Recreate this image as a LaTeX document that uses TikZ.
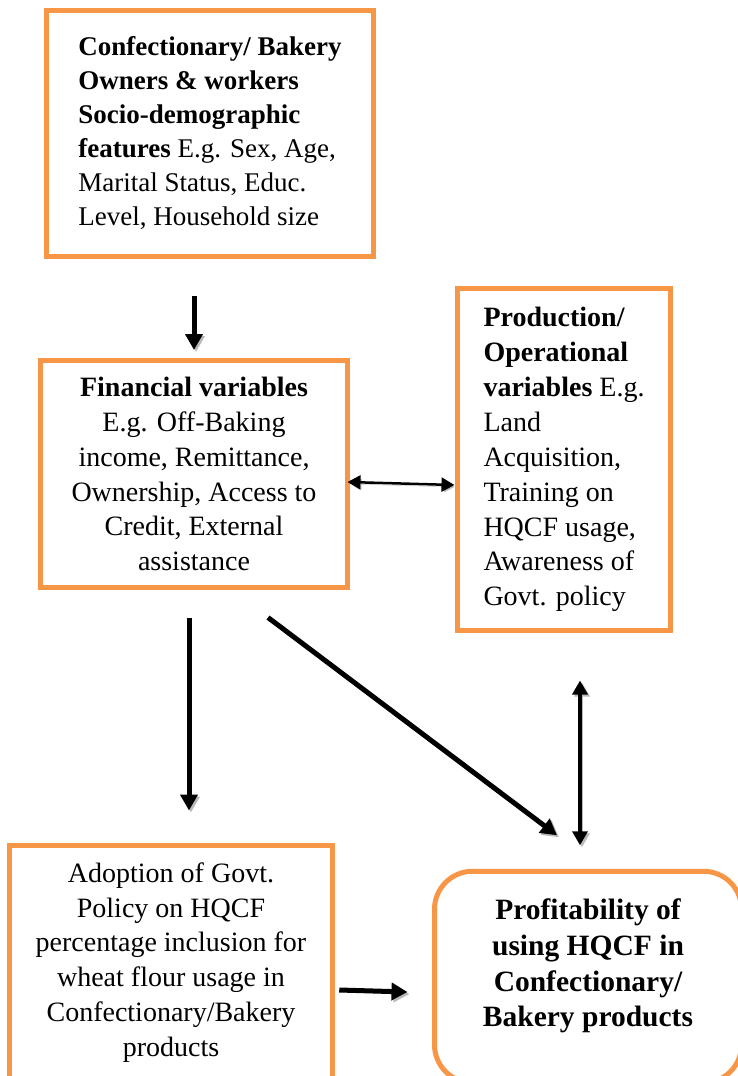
\documentclass[tikz,border=0pt]{standalone}
\usepackage{fontspec}
\setmainfont{Liberation Serif}
\usepackage{tikz}
\usetikzlibrary{arrows.meta,positioning,calc}
\definecolor{boxorange}{HTML}{F79646}

\begin{document}
\begin{tikzpicture}[x=1pt,y=-1pt,
	box/.style={draw=boxorange, line width=5pt, inner sep=0pt, font=\fontsize{28}{34.9}\selectfont},
	rbox/.style={box, rounded corners=38pt},
	shdw/.style={preaction={draw=gray!55, transform canvas={shift={(2pt,-2pt)}}}},
	arr/.style={shdw, line width=5pt, -{Triangle[length=16pt,width=17pt]}},
	darr/.style={shdw, line width=4pt, {Triangle[length=14pt,width=15pt]}-{Triangle[length=14pt,width=15pt]}},
	thinarr/.style={shdw, line width=2.5pt, {Triangle[length=13pt,width=14pt]}-{Triangle[length=13pt,width=14pt]}}]
		\useasboundingbox (0,0) rectangle (738,1076);
		\clip (0,0) rectangle (738,1076);
		% boxes
		\node [box, font=\fontsize{27}{34}\selectfont, minimum width=326.5pt, minimum height=246pt, align=left](socio) at (210,133) {\textbf{Confectionary/ Bakery}\\ \textbf{Owners \& workers}\\ \textbf{Socio-demographic}\\ \textbf{features} E.g. Sex, Age,\\ Marital Status, Educ.\\ Level, Household size};
		\node [box, minimum width=307pt, minimum height=227pt, align=center](fin) at (194,474) {\textbf{Financial variables}\\ E.g. Off-Baking\\ income, Remittance,\\ Ownership, Access to\\ Credit, External\\ assistance};
		\node [box, minimum width=213pt, minimum height=342pt, align=left](prod) at (564,459.5) {\textbf{Production/}\\ \textbf{Operational}\\ \textbf{variables} E.g.\\ Land\\ Acquisition,\\ Training on\\ HQCF usage,\\ Awareness of\\ Govt. policy};
		\node [box, minimum width=323.5pt, minimum height=234pt, align=center](adopt) at (171,962.5) {Adoption of Govt.\\ Policy on HQCF\\ percentage inclusion for\\ wheat flour usage in\\ Confectionary/Bakery\\ products};
		\node [rbox, minimum width=307pt, minimum height=211.5pt](profit) at (588,977) {};
		\node [font=\fontsize{29.5}{35.8}\selectfont\bfseries, align=center](profittxt) at (588,966) {Profitability of\\ using HQCF in\\ Confectionary/\\ Bakery products};
		% arrows
		\draw [arr] ([yshift=-37pt]fin.north |- socio.south) -- ([yshift=8pt]fin.north);
		\draw [thinarr] ([xshift=-2.5pt,yshift=-8pt]fin.east) -- ([xshift=-0.5pt,yshift=-25.5pt]prod.west);
		\draw [arr] ([xshift=-5pt,yshift=-27.5pt]fin.south) -- ([xshift=-5pt,yshift=32.5pt]fin.south |- adopt.north);
		\draw [arr] ([xshift=74pt,yshift=-27.5pt]fin.south) -- ([xshift=-31pt,yshift=33.5pt]profit.north);
		\draw [darr] ([xshift=16pt,yshift=-47.5pt]prod.south) -- ([xshift=-8pt,yshift=23.5pt]profit.north);
		\draw [arr] ([xshift=4pt,yshift=-27.5pt]adopt.east) -- ([xshift=-24.5pt,yshift=-15pt]profit.west);
\end{tikzpicture}
\end{document}
